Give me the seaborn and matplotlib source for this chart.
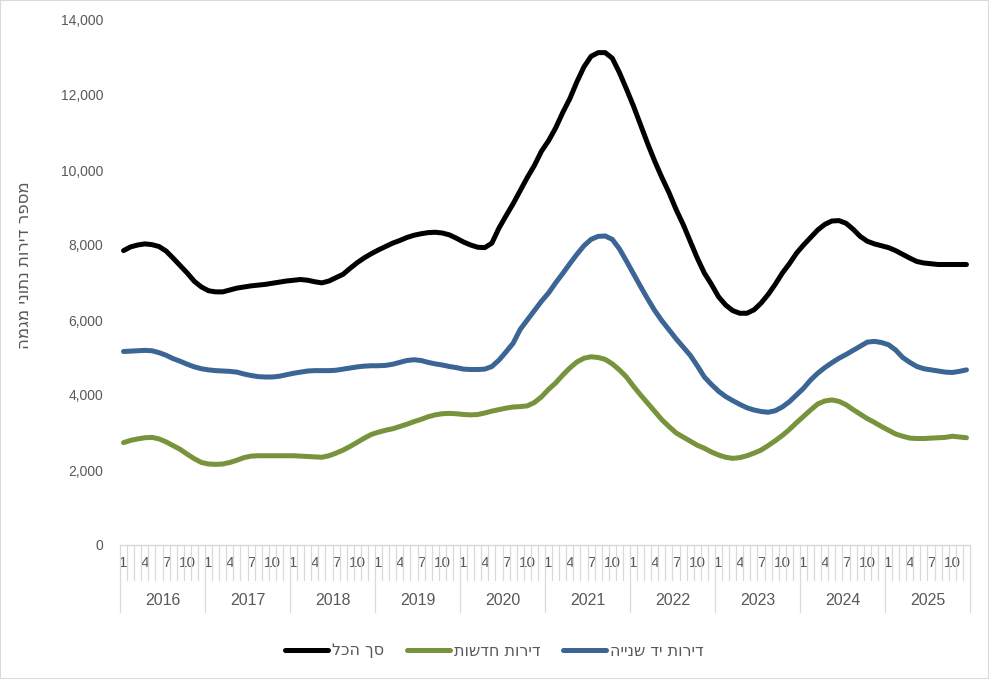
import matplotlib
matplotlib.use("Agg")
import matplotlib.pyplot as plt
import matplotlib.transforms as mtransforms
from matplotlib.patches import Rectangle
from matplotlib.ticker import FuncFormatter
import seaborn as sns
import numpy as np
import pandas as pd

# monthly trend data, Jan 2016 - Dec 2025
years = list(range(2016, 2026))
month_labels = ["1", "4", "7", "10"]

total = [
    7850, 7950, 8000, 8030, 8010, 7960, 7840, 7650, 7450, 7250, 7030, 6880,
    6780, 6750, 6750, 6800, 6850, 6880, 6910, 6930, 6950, 6980, 7010, 7040,
    7060, 7080, 7060, 7020, 6990, 7040, 7130, 7220, 7380, 7530, 7660, 7770,
    7870, 7960, 8050, 8120, 8200, 8260, 8300, 8330, 8340, 8320, 8270, 8180,
    8080, 8000, 7940, 7930, 8050, 8450, 8780, 9100, 9450, 9800, 10120, 10500,
    10780, 11120, 11530, 11900, 12350, 12750, 13030, 13130, 13130, 12980, 12600, 12160,
    11700, 11200, 10700, 10230, 9800, 9400, 8950, 8550, 8100, 7650, 7250, 6950,
    6620, 6400, 6250, 6180, 6180, 6270, 6450, 6680, 6950, 7250, 7500, 7780,
    8000, 8200, 8400, 8550, 8640, 8650, 8580, 8420, 8230, 8100, 8030, 7980,
    7930, 7850, 7750, 7650, 7560, 7520, 7500, 7480, 7480, 7480, 7480, 7480,
]

new_apts = [
    2730, 2790, 2830, 2860, 2870, 2830, 2750, 2650, 2550, 2420, 2300, 2200,
    2160, 2150, 2160, 2200, 2260, 2330, 2370, 2380, 2380, 2380, 2380, 2380,
    2380, 2370, 2360, 2350, 2340, 2380, 2450, 2530, 2630, 2740, 2850, 2950,
    3010, 3060, 3100, 3160, 3220, 3290, 3350, 3420, 3470, 3500, 3510, 3500,
    3480, 3470, 3480, 3520, 3570, 3610, 3650, 3680, 3690, 3710, 3800, 3950,
    4150, 4320, 4530, 4720, 4880, 4980, 5020, 5000, 4950, 4830, 4670, 4480,
    4230, 4000, 3780, 3560, 3340, 3160, 2990, 2880, 2770, 2660, 2580, 2480,
    2400, 2340, 2310, 2330, 2380, 2450, 2530, 2650, 2780, 2920, 3080, 3260,
    3430, 3600, 3760, 3840, 3870, 3830, 3740, 3610, 3490, 3370, 3270, 3160,
    3060, 2960, 2900, 2850, 2840, 2840, 2850, 2860, 2870, 2900, 2880, 2860,
]

second_hand = [
    5160, 5170, 5180, 5190, 5180, 5130, 5060, 4970, 4900, 4820, 4750, 4700,
    4670, 4650, 4640, 4630, 4610, 4560, 4520, 4490, 4480, 4480, 4500, 4540,
    4580, 4610, 4640, 4650, 4650, 4650, 4660, 4690, 4720, 4750, 4770, 4780,
    4780, 4790, 4820, 4870, 4920, 4940, 4920, 4870, 4830, 4800, 4760, 4730,
    4690, 4680, 4680, 4690, 4760, 4930, 5150, 5380, 5750, 6000, 6250, 6500,
    6720, 6990, 7240, 7500, 7750, 7980, 8150, 8230, 8240, 8150, 7900, 7570,
    7230, 6890, 6560, 6250, 5980, 5740, 5500, 5280, 5060, 4780, 4480, 4280,
    4100, 3960, 3850, 3750, 3660, 3600, 3560, 3540, 3580, 3680, 3820, 4000,
    4180, 4400, 4580, 4730, 4860, 4980, 5080, 5190, 5300, 5410, 5430, 5400,
    5340, 5200, 5000, 4870, 4760, 4700, 4670, 4640, 4610, 4600, 4630, 4670,
]

# Hebrew labels (logical order); reversed for display since matplotlib has no bidi
lbl_total = "סך הכל"
lbl_new = "דירות חדשות"
lbl_second = "דירות יד שנייה"
ylabel = "מספר דירות נתוני מגמה"


def rtl(s):
    return s[::-1]


sns.set_style("white")
plt.rcParams["font.family"] = ["Liberation Sans", "DejaVu Sans"]
heb_font = ["DejaVu Sans"]

gray_txt = "#595959"
gray_ln = "#D9D9D9"

n = len(total)
idx = np.arange(n)
df = pd.DataFrame({"m": idx, "total": total, "new": new_apts, "second": second_hand})

fig = plt.figure(figsize=(9.89, 6.79), dpi=100)
ax = fig.add_axes([120 / 989, 1 - 545 / 679, 850 / 989, 525 / 679])

sns.lineplot(data=df, x="m", y="total", color="black", lw=3.6, ax=ax, label=rtl(lbl_total))
sns.lineplot(data=df, x="m", y="new", color="#77933C", lw=3.6, ax=ax, label=rtl(lbl_new))
sns.lineplot(data=df, x="m", y="second", color="#3A6594", lw=3.6, ax=ax, label=rtl(lbl_second))

ax.set_xlim(-0.5, n - 0.5)
ax.set_ylim(0, 14000)
ax.set_yticks(range(0, 14001, 2000))
ax.yaxis.set_major_formatter(FuncFormatter(lambda v, p: f"{int(v):,}"))
ax.tick_params(axis="y", length=0, pad=12, labelsize=10, labelcolor=gray_txt)

ticks = [y * 12 + m for y in range(len(years)) for m in (0, 3, 6, 9)]
ax.set_xticks(ticks)
ax.set_xticklabels(month_labels * len(years))
ax.tick_params(axis="x", length=0, pad=8, labelsize=11, labelcolor=gray_txt)
ax.set_xlabel("")
ax.set_ylabel("")

for s in ["top", "right", "left"]:
    ax.spines[s].set_visible(False)
ax.spines["bottom"].set_color(gray_ln)
ax.spines["bottom"].set_linewidth(1)

# category separators: short for months, long for years
trans = mtransforms.blended_transform_factory(ax.transData, ax.transAxes)
for k in range(n + 1):
    y_end = -0.128 if k % 12 == 0 else -0.066
    ax.plot([k - 0.5, k - 0.5], [0, y_end], color=gray_ln, lw=0.9,
            transform=trans, clip_on=False)

for i, yr in enumerate(years):
    ax.text(i * 12 + 5.5, -0.105, str(yr), transform=trans, ha="center",
            va="center", fontsize=11.5, color=gray_txt)

fig.text(24 / 989, 1 - 265 / 679, rtl(ylabel), rotation=90, ha="center",
         va="center", fontsize=12, color=gray_txt, family=heb_font)

leg = ax.legend(loc="center", bbox_to_anchor=(0.5, 1 - 651 / 679), bbox_transform=fig.transFigure,
                ncol=3, frameon=False, prop={"family": heb_font, "size": 11.5},
                handlelength=2.7, columnspacing=1.4, handletextpad=0.25, labelcolor=gray_txt)

fig.patches.append(Rectangle((0, 0), 1, 1, transform=fig.transFigure, fill=False,
                             edgecolor=gray_ln, lw=1.5))

fig.savefig("out.png", dpi=100)
